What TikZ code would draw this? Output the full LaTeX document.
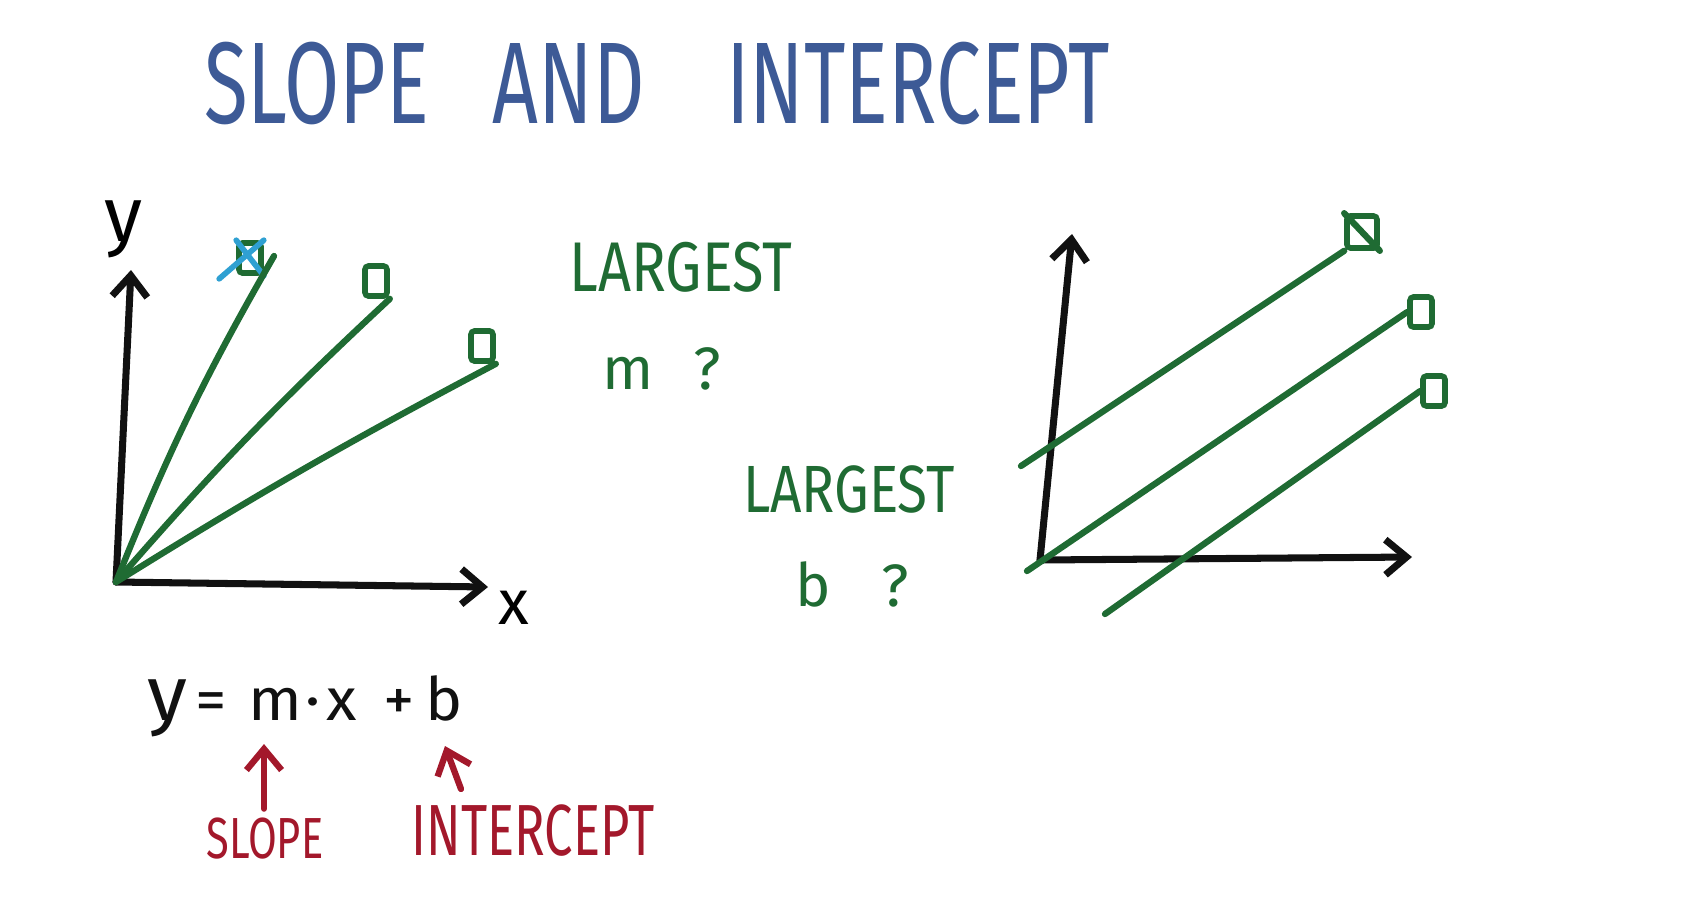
\documentclass[tikz,border=0pt]{standalone}
\usepackage{fontspec}
\setmainfont{Fira Sans}
\usetikzlibrary{arrows.meta}
\definecolor{ttl}{HTML}{3D5A96}
\definecolor{grn}{HTML}{1F6B33}
\definecolor{rd}{HTML}{A3182B}
\definecolor{xbl}{HTML}{2FA0D2}
\definecolor{ink}{HTML}{111111}

\begin{document}
\begin{tikzpicture}[x=0.01cm, y=0.01cm, >={Straight Barb[length=6pt,width=10pt]},
  ax/.style={->, line width=2pt, draw=ink, line cap=round, line join=round},
  ln/.style={line width=1.8pt, draw=grn, line cap=round},
  mk/.style={draw=grn, line width=1.6pt, rounded corners=1pt, minimum width=0.22cm, minimum height=0.3cm, inner sep=0pt},
  txt/.style={inner sep=0pt, transform shape},
  rarr/.style={->, line width=1.8pt, draw=rd, line cap=round}
]
\useasboundingbox (0,0) rectangle (1690,-902);
\node[txt, text=ttl, font=\fontsize{26}{26}\selectfont, xscale=.875, yscale=1.27] (title) at (657,-83)
  {SLOPE\hspace{0.73cm}AND\hspace{0.93cm}INTERCEPT};
% left graph
\coordinate (lo) at (116,-582);
\coordinate (lyt) at (131,-270);
\coordinate (lxr) at (488,-587);
\draw[ax] (lo) -- (lyt);
\draw[ax] (lo) -- (lxr);
\node[txt, font=\fontsize{22}{22}\selectfont] (ylab) at (124,-229) {y};
\node[txt, font=\fontsize{18}{18}\selectfont] (xlab) at (514,-608) {x};
\node[mk] (m1) at (250,-258) {};
\node[mk] (m2) at (376,-281) {};
\node[mk] (m3) at (482,-346) {};
\coordinate (e1) at (274,-256);
\draw[line width=1.6pt, draw=xbl, line cap=round] (m1.south west) ++(-17,-3) -- (m1.north east);
\draw[line width=1.6pt, draw=xbl, line cap=round] (m1.north west) -- (m1.south east);
\draw[ln] (lo) to[bend left=4] (e1);
\draw[ln] (lo) to[bend left=3] (m2.south east);
\draw[ln] (lo) to[bend left=2] (m3.south east);
% questions
\node[txt, text=grn, font=\fontsize{20}{20}\selectfont, xscale=.82, yscale=1.0] (lgm) at (681,-267) {LARGEST};
\node[txt, text=grn, font=\fontsize{17}{17}\selectfont, anchor=base] (qm) at (662,-389) {m\hspace{0.4cm}?};
\node[txt, text=grn, font=\fontsize{20}{20}\selectfont, xscale=.78, yscale=.95] (lgb) at (849,-489) {LARGEST};
\node[txt, text=grn, font=\fontsize{17}{17}\selectfont, anchor=base] (qb) at (852,-606) {b\hspace{0.5cm}?};
% right graph
\coordinate (ro) at (1040,-560);
\coordinate (ryt) at (1072,-234);
\coordinate (rxr) at (1412,-557);
\draw[ax] (ro) -- (ryt);
\draw[ax] (ro) -- (rxr);
\node[mk, minimum width=0.3cm, minimum height=0.32cm] (n1) at (1362,-232) {};
\draw[ln] (n1.north west) -- (n1.south east);
\node[mk] (n2) at (1421,-312) {};
\node[mk] (n3) at (1434,-391) {};
\coordinate (s1) at (1021,-466);
\coordinate (s2) at (1027,-571);
\coordinate (s3) at (1105,-614);
\draw[ln] (s1) -- (n1.south west);
\draw[ln] (s2) -- (n2.west);
\draw[ln] (s3) -- (n3.west);
% equation
\node[txt, text=ink, font=\fontsize{17}{17}\selectfont, anchor=base, xscale=1.05] (eq) at (305,-720)
  {{\fontsize{22}{22}\selectfont y}\hspace{0.08cm}=\hspace{0.2cm}m\hspace{0.03cm}·\hspace{0.06cm}x\hspace{0.25cm}+\hspace{0.1cm}b};
\node[txt, text=rd, font=\fontsize{16}{16}\selectfont, xscale=.74, yscale=1.03] (slp) at (265,-839) {SLOPE};
\node[txt, text=rd, font=\fontsize{20}{20}\selectfont, xscale=.72, yscale=1.03] (icp) at (533,-831) {INTERCEPT};
\coordinate (tm) at (264,-744);
\coordinate (tb) at (445,-746);
\coordinate (ib) at (461,-789);
\draw[rarr] (slp.north) ++(-1,9) -- (tm);
\draw[rarr] (ib) -- (tb);
\end{tikzpicture}
\end{document}
